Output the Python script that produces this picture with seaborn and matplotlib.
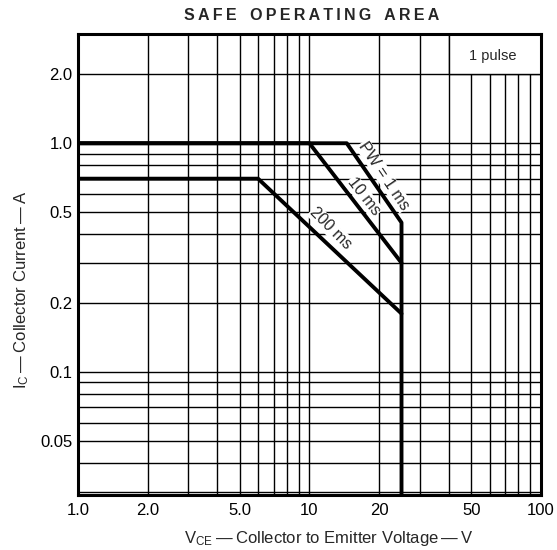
import numpy as np
import pandas as pd
import seaborn as sns
import matplotlib.pyplot as plt
from matplotlib.ticker import FixedLocator, FixedFormatter, LogLocator, NullFormatter
from matplotlib.patches import Rectangle

sns.set_style("white")
plt.rcParams['font.family'] = ['Liberation Sans', 'DejaVu Sans']
plt.rcParams['mathtext.fontset'] = 'custom'
plt.rcParams['mathtext.rm'] = 'Liberation Sans'
plt.rcParams['mathtext.it'] = 'Liberation Sans:italic'

# SOA curves, VCE in V, IC in A
pw1_vce = [1.0, 14.5, 25.0, 25.0]
pw1_ic = [1.0, 1.0, 0.45, 0.029]
pw10_vce = [1.0, 10.0, 25.0]
pw10_ic = [1.0, 1.0, 0.30]
pw200_vce = [1.0, 6.0, 25.0]
pw200_ic = [0.70, 0.70, 0.18]

x_ticks = [1, 2, 5, 10, 20, 50, 100]
x_labels = ["1.0", "2.0", "5.0", "10", "20", "50", "100"]
y_ticks = [0.05, 0.1, 0.2, 0.5, 1.0, 2.0]
y_labels = ["0.05", "0.1", "0.2", "0.5", "1.0", "2.0"]

df = pd.concat([
    pd.DataFrame({"pw": "1 ms", "vce": pw1_vce, "ic": pw1_ic}),
    pd.DataFrame({"pw": "10 ms", "vce": pw10_vce, "ic": pw10_ic}),
    pd.DataFrame({"pw": "200 ms", "vce": pw200_vce, "ic": pw200_ic}),
], ignore_index=True)

fig = plt.figure(figsize=(5.57, 5.5), dpi=100)
ax = fig.add_axes([0.140, 0.100, 0.831, 0.838])

sns.lineplot(data=df, x="vce", y="ic", units="pw", estimator=None, sort=False,
             color="black", lw=2.8, ax=ax, zorder=3)

ax.set_xscale("log")
ax.set_yscale("log")
ax.set_xlim(1, 100)
ax.set_ylim(0.029, 3.0)

ax.xaxis.set_major_locator(FixedLocator(x_ticks))
ax.xaxis.set_major_formatter(FixedFormatter(x_labels))
ax.yaxis.set_major_locator(FixedLocator(y_ticks))
ax.yaxis.set_major_formatter(FixedFormatter(y_labels))
for a in (ax.xaxis, ax.yaxis):
    a.set_minor_locator(LogLocator(base=10, subs=np.arange(1, 10), numticks=20))
    a.set_minor_formatter(NullFormatter())

ax.set_axisbelow(True)
ax.grid(which="both", color="black", lw=1.0)
ax.tick_params(which="both", length=0, labelsize=12, labelcolor="black")
ax.tick_params(axis="x", pad=6)
ax.tick_params(axis="y", pad=4)
for s in ax.spines.values():
    s.set_color("black")
    s.set_linewidth(2.2)
ax.set_xlabel("")
ax.set_ylabel("")

# "1 pulse" box in the top right corner
ax.add_patch(Rectangle((40, 2.0), 60, 1.0, facecolor="white", edgecolor="black",
                       lw=1.0, zorder=1.5))
ax.text(62, 2.4, "1 pulse", ha="center", va="center", fontsize=10.5, zorder=4)

box = dict(facecolor="white", edgecolor="none", pad=0.5)
ax.text(21.0, 0.72, "PW = 1 ms", rotation=-56, rotation_mode="anchor",
        ha="center", va="center", fontsize=11.5, bbox=box, zorder=4)
ax.text(17.2, 0.585, "10 ms", rotation=-52, rotation_mode="anchor",
        ha="center", va="center", fontsize=11.5, bbox=box, zorder=4)
ax.text(12.4, 0.424, "200 ms", rotation=-45, rotation_mode="anchor",
        ha="center", va="center", fontsize=11.5, bbox=box, zorder=4)

ts = "\u2009"
title = "   ".join(ts.join(w) for w in ["SAFE", "OPERATING", "AREA"])
fig.text(312 / 557, 1 - 16 / 550, title,
         ha="center", va="center", fontsize=11.5, fontweight="bold")
fig.text(329 / 557, 1 - 538 / 550,
         r"V$_{\rm CE}$" + ts + "—" + ts + "Collector to Emitter Voltage" + ts + "—" + ts + "V",
         ha="center", va="center", fontsize=12)
fig.text(22 / 557, 1 - 290 / 550,
         r"I$_{\rm C}$" + ts + "—" + ts + "Collector Current" + ts + "—" + ts + "A",
         ha="center", va="center", rotation=90, fontsize=12)

fig.savefig("out.png", dpi=100)
